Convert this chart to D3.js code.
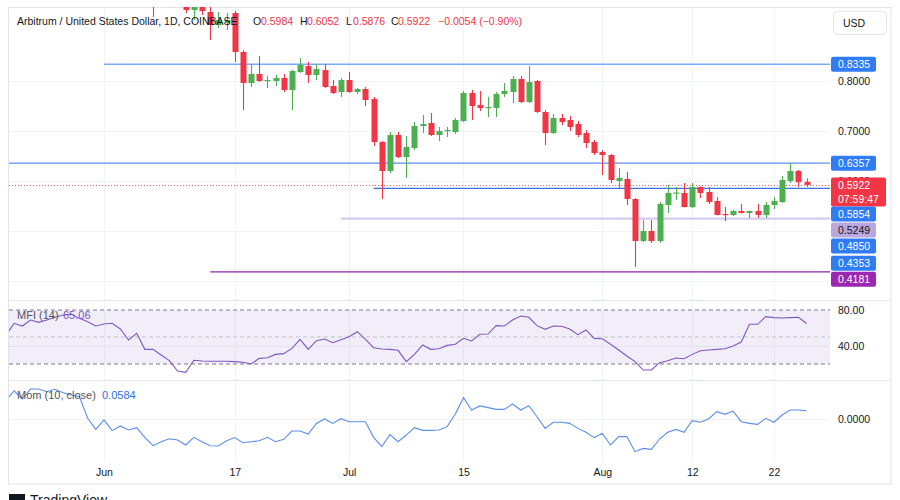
<!DOCTYPE html>
<html><head><meta charset="utf-8">
<script src="https://cdn.jsdelivr.net/npm/d3@7"></script>
<style>
body{margin:0;background:#fff}
svg text{font-family:"Liberation Sans",Arial,sans-serif}
</style>
</head><body>
<svg id="c" width="900" height="500"></svg>
<script>
// ---------- DATA ----------
const dates = ["05-20","05-21","05-22","05-23","05-24","05-25","05-26","05-27","05-28","05-29","05-30","05-31",
"06-01","06-02","06-03","06-04","06-05","06-06","06-07","06-08","06-09","06-10","06-11","06-12","06-13","06-14","06-15",
"06-16","06-17","06-18","06-19","06-20","06-21","06-22","06-23","06-24","06-25","06-26","06-27","06-28","06-29","06-30",
"07-01","07-02","07-03","07-04","07-05","07-06","07-07","07-08","07-09","07-10","07-11","07-12","07-13","07-14","07-15",
"07-16","07-17","07-18","07-19","07-20","07-21","07-22","07-23","07-24","07-25","07-26","07-27","07-28","07-29","07-30","07-31",
"08-01","08-02","08-03","08-04","08-05","08-06","08-07","08-08","08-09","08-10","08-11","08-12","08-13","08-14","08-15",
"08-16","08-17","08-18","08-19","08-20","08-21","08-22","08-23","08-24","08-25","08-26"];
const open = [1.03,1.12,1.13,1.10,1.09,1.12,1.11,1.12,1.19,1.16,1.12,1.13,
1.16,1.17,1.16,1.13,1.12,1.13,1.08,1.01,1.02,1.03,0.99,0.942,0.97,0.938,0.912,
0.916,0.936,0.858,0.796,0.814,0.801,0.800,0.806,0.782,0.818,0.830,0.812,0.822,0.790,0.778,
0.802,0.778,0.784,0.764,0.678,0.620,0.692,0.648,0.666,0.710,0.716,0.692,0.700,0.698,0.720,
0.776,0.752,0.746,0.746,0.774,0.778,0.804,0.758,0.800,0.738,0.696,0.726,0.722,0.714,0.696,0.678,
0.658,0.652,0.600,0.604,0.564,0.480,0.500,0.480,0.552,0.575,0.576,0.548,0.588,0.578,0.560,
0.534,0.532,0.540,0.536,0.540,0.532,0.552,0.558,0.600,0.620,0.5984];
const high = [1.13,1.17,1.15,1.16,1.13,1.14,1.13,1.22,1.20,1.18,1.15,1.16,
1.18,1.18,1.20,1.16,1.15,1.14,1.10,1.04,1.05,1.04,1.00,0.98,0.975,0.95,0.938,
0.936,0.94,0.862,0.834,0.85,0.81,0.812,0.814,0.822,0.846,0.838,0.834,0.834,0.802,0.806,
0.818,0.786,0.788,0.768,0.680,0.698,0.698,0.690,0.718,0.732,0.736,0.708,0.708,0.726,0.780,
0.782,0.780,0.768,0.778,0.796,0.810,0.810,0.830,0.802,0.742,0.734,0.734,0.730,0.720,0.702,0.682,
0.662,0.654,0.626,0.618,0.566,0.522,0.522,0.558,0.592,0.588,0.596,0.596,0.589,0.588,0.568,
0.548,0.542,0.554,0.541,0.554,0.558,0.568,0.610,0.6357,0.622,0.6052];
const low = [1.02,1.10,1.08,1.05,1.07,1.10,1.09,1.11,1.13,1.11,1.10,1.10,
1.15,1.14,1.12,1.10,1.10,1.06,0.928,0.99,1.00,0.98,0.936,0.922,0.932,0.882,0.906,
0.902,0.838,0.742,0.788,0.798,0.786,0.790,0.778,0.742,0.816,0.796,0.802,0.786,0.774,0.768,
0.776,0.774,0.750,0.670,0.564,0.616,0.646,0.606,0.662,0.696,0.690,0.680,0.688,0.694,0.718,
0.722,0.740,0.728,0.728,0.768,0.756,0.756,0.756,0.736,0.672,0.694,0.712,0.700,0.688,0.666,0.652,
0.612,0.596,0.586,0.552,0.428,0.478,0.476,0.476,0.536,0.562,0.547,0.546,0.566,0.554,0.531,
0.520,0.530,0.535,0.526,0.526,0.526,0.544,0.556,0.596,0.588,0.5876];
const close = [1.12,1.13,1.10,1.09,1.12,1.11,1.12,1.19,1.16,1.12,1.13,1.16,
1.17,1.16,1.13,1.12,1.13,1.08,1.01,1.02,1.03,0.99,0.942,0.97,0.94,0.912,0.922,
0.922,0.858,0.796,0.814,0.800,0.802,0.806,0.782,0.820,0.832,0.812,0.824,0.788,0.776,0.802,
0.778,0.784,0.762,0.678,0.620,0.692,0.648,0.668,0.710,0.714,0.692,0.700,0.702,0.722,0.776,
0.750,0.746,0.748,0.774,0.780,0.804,0.758,0.798,0.738,0.696,0.726,0.718,0.708,0.692,0.676,0.656,
0.652,0.602,0.606,0.564,0.480,0.500,0.480,0.554,0.576,0.577,0.548,0.588,0.576,0.558,0.532,
0.532,0.540,0.536,0.540,0.532,0.552,0.560,0.602,0.620,0.5976,0.5922];
const mfi = [52.2,65.2,62.2,68.9,66.3,68.9,71.9,74.4,75.6,70.7,67.0,62.2,
64.4,65.2,58.9,46.7,54.1,36.3,36.3,30.0,23.7,12.2,10.7,24.1,23.3,23.0,23.0,
23.0,22.6,21.9,20.0,26.3,27.0,30.7,31.5,37.4,47.4,36.3,45.9,47.8,43.7,47.0,
50.4,55.9,47.4,38.1,36.7,36.3,35.2,22.6,30.7,41.1,36.3,37.0,40.7,41.9,48.5,
45.6,53.0,53.3,62.6,62.2,68.9,73.3,71.9,62.6,58.5,62.2,61.9,58.9,52.6,57.8,48.5,
48.1,41.9,35.6,28.9,22.6,13.3,13.3,21.5,23.7,26.7,25.9,30.7,34.8,35.6,36.3,
37.0,40.0,44.4,64.1,64.1,72.6,71.5,71.1,71.5,71.9,65.06];
const mom = [0.13,0.199,0.141,0.211,0.211,0.192,0.209,0.185,0.169,0.157,0.005,-0.073,
-0.007,-0.082,-0.049,-0.077,-0.061,-0.129,-0.188,-0.160,-0.139,-0.148,-0.183,-0.129,-0.160,-0.188,-0.190,
-0.153,-0.131,-0.167,-0.160,-0.153,-0.129,-0.160,-0.143,-0.085,-0.085,-0.106,-0.031,0.000,-0.031,0.002,
-0.019,-0.019,-0.019,-0.129,-0.195,-0.110,-0.160,-0.113,-0.061,-0.080,-0.080,-0.077,-0.054,0.035,0.150,
0.063,0.092,0.080,0.068,0.068,0.106,0.063,0.094,0.016,-0.066,-0.023,-0.023,-0.031,-0.066,-0.094,-0.131,
-0.101,-0.183,-0.124,-0.124,-0.230,-0.207,-0.214,-0.141,-0.094,-0.073,-0.094,-0.012,-0.023,0.000,0.052,
0.033,0.056,-0.019,-0.031,-0.038,0.005,-0.023,0.028,0.063,0.063,0.0584];

const timeTickDates = ["06-01","06-17","07-01","07-15","08-01","08-12","08-22"];
const timeTickLabels = ["Jun","17","Jul","15","Aug","12","22"];
const priceTicks = [0.8,0.7,0.6,0.5,0.4];
const mfiTicks = [80,40];
const mfiBands = [80,50,20];
const momTicks = [0];
const levelValues = [0.8335,0.6357,0.5854,0.5249,0.4850,0.4353,0.4181];
const levelStarts  = ["06-01","05-20","07-04","06-30",null,null,"06-14"];
const levelKinds   = ["blueL","blue","blueD","lav",null,null,"purple"];
const titleText = "Arbitrum / United States Dollar, 1D, COINBASE";
const countdown = "07:59:47";

// ---------- SETUP ----------
const parse = d3.utcParse("%Y-%m-%d");
const D = s => parse("2024-" + s);
const data = dates.map((d,i)=>({date:D(d),o:open[i],h:high[i],l:low[i],c:close[i],mfi:mfi[i],mom:mom[i]}));
const svg = d3.select("#c");
const PL = 9, PR = 830, OR = 891;
const P = {top:7, bot:300}, M = {top:300.5, bot:380}, Mo = {top:380.5, bot:462};
const step = 8.17;
const x = d3.scaleUtc().domain([D("05-20"), D("08-26")]).range([104-12*step, 104+86*step]);
const y = d3.scaleLinear().domain([0.362,0.948]).range([P.bot,P.top]);
const ym = d3.scaleLinear().domain([2.22,90.56]).range([M.bot,M.top]);
const yo = d3.scaleLinear().domain([-0.3028,0.2711]).range([Mo.bot,Mo.top]);
const grid = "#f0f3fa", border = "#e0e3eb", up = "#4caf50", dn = "#f23645", txt = "#131722";
const FS = "10.5px";

const defs = svg.append("defs");
[["cp",P],["cm",M],["co",Mo]].forEach(([id,p])=>{
  defs.append("clipPath").attr("id",id).append("rect").attr("x",PL).attr("y",p.top).attr("width",PR-PL).attr("height",p.bot-p.top);
});

// grid lines
const g0 = svg.append("g");
timeTickDates.forEach(t=>{
  g0.append("line").attr("x1",Math.round(x(D(t)))+0.5).attr("x2",Math.round(x(D(t)))+0.5)
    .attr("y1",P.top).attr("y2",Mo.bot).attr("stroke",grid);
});
priceTicks.forEach(v=>g0.append("line").attr("x1",PL).attr("x2",PR).attr("y1",Math.round(y(v))+0.5).attr("y2",Math.round(y(v))+0.5).attr("stroke",grid));
mfiTicks.filter(v=>v!==80).forEach(v=>g0.append("line").attr("x1",PL).attr("x2",PR).attr("y1",Math.round(ym(v))+0.5).attr("y2",Math.round(ym(v))+0.5).attr("stroke",grid));
momTicks.forEach(v=>g0.append("line").attr("x1",PL).attr("x2",PR).attr("y1",Math.round(yo(v))+0.5).attr("y2",Math.round(yo(v))+0.5).attr("stroke",grid));

// borders
svg.append("rect").attr("x",8.5).attr("y",7.5).attr("width",OR-8.5).attr("height",484-7.5).attr("fill","none").attr("stroke",border);
[M.top, Mo.top].forEach(v=>svg.append("line").attr("x1",8.5).attr("x2",OR).attr("y1",v).attr("y2",v).attr("stroke",border));

// ---------- PRICE PANE ----------
const gp = svg.append("g").attr("clip-path","url(#cp)");
const lvlStyle = {blueL:["#7aaaf7",1.6],blue:["#5b8ff0",1.4],blueD:["#3d6fe0",1.2],lav:["#d6cbec",2.2],purple:["#8e24aa",1.2]};
levelValues.forEach((v,i)=>{
  if(!levelStarts[i]) return;
  const st = lvlStyle[levelKinds[i]];
  gp.append("line").attr("x1",Math.max(PL,x(D(levelStarts[i])))).attr("x2",PR)
    .attr("y1",y(v)).attr("y2",y(v)).attr("stroke",st[0]).attr("stroke-width",st[1]);
});
const last = data[data.length-1];
gp.append("line").attr("x1",PL).attr("x2",PR).attr("y1",Math.round(y(last.c))+0.5).attr("y2",Math.round(y(last.c))+0.5)
  .attr("stroke",dn).attr("stroke-width",1).attr("stroke-dasharray","1,2").attr("opacity",0.8);

const cw = 6;
const cg = gp.selectAll("g.c").data(data).enter().append("g");
cg.append("line").attr("x1",d=>Math.round(x(d.date))+0.5).attr("x2",d=>Math.round(x(d.date))+0.5)
  .attr("y1",d=>y(d.h)).attr("y2",d=>y(d.l)).attr("stroke",d=>d.c>=d.o?up:dn).attr("stroke-width",1.1);
cg.append("rect").attr("x",d=>Math.round(x(d.date))-cw/2+0.5).attr("width",cw)
  .attr("y",d=>y(Math.max(d.o,d.c))).attr("height",d=>Math.max(1.2,Math.abs(y(d.o)-y(d.c))))
  .attr("fill",d=>d.c>=d.o?up:dn);

// ---------- MFI PANE ----------
const gm = svg.append("g").attr("clip-path","url(#cm)");
gm.append("rect").attr("x",PL).attr("width",PR-PL).attr("y",ym(80)).attr("height",ym(20)-ym(80)).attr("fill","rgba(126,87,194,0.1)");
mfiBands.forEach(v=>gm.append("line").attr("x1",PL).attr("x2",PR).attr("y1",ym(v)).attr("y2",ym(v))
  .attr("stroke",v===50?"#c3c3c8":"#787b86").attr("stroke-dasharray","4,3"));
gm.append("path").datum(data).attr("fill","none").attr("stroke","#7e57c2").attr("stroke-width",1.1)
  .attr("d",d3.line().x(d=>x(d.date)).y(d=>ym(d.mfi)));

// ---------- MOM PANE ----------
const go = svg.append("g").attr("clip-path","url(#co)");
go.append("path").datum(data).attr("fill","none").attr("stroke","#5b8def").attr("stroke-width",1.1)
  .attr("d",d3.line().x(d=>x(d.date)).y(d=>yo(d.mom)));

// ---------- AXES ----------
const axFont = g=>{g.select(".domain").remove(); g.selectAll("text").attr("fill",txt).style("font-size",FS);};
svg.append("g").attr("transform",`translate(832,0)`)
  .call(d3.axisRight(y).tickValues(priceTicks).tickSize(0).tickPadding(6).tickFormat(d3.format(".4f"))).call(axFont);
svg.append("g").attr("transform",`translate(832,0)`)
  .call(d3.axisRight(ym).tickValues(mfiTicks).tickSize(0).tickPadding(6).tickFormat(d3.format(".2f"))).call(axFont);
svg.append("g").attr("transform",`translate(832,0)`)
  .call(d3.axisRight(yo).tickValues(momTicks).tickSize(0).tickPadding(6).tickFormat(d3.format(".4f"))).call(axFont);
svg.append("g").attr("transform",`translate(0,466)`)
  .call(d3.axisBottom(x).tickValues(timeTickDates.map(D)).tickSize(0).tickPadding(3)
    .tickFormat((d,i)=>timeTickLabels[i])).call(axFont);

// ---------- PRICE LABELS ----------
const lblCol = {blueL:["#2f7cf6","#fff"],blue:["#2f7cf6","#fff"],blueD:["#2f7cf6","#fff"],lav:["#b9a7de",txt],purple:["#9c27b0","#fff"],none:["#2f7cf6","#fff"]};
const curY = y(last.c);
const redTop = curY - 7.5, redBot = redTop + 29;
const labels = levelValues.map((v,i)=>({v, kind: levelKinds[i]||"none", ny: y(v)})).sort((a,b)=>a.ny-b.ny);
const H = 15;
let prevBottom = -1e9;
labels.forEach(l=>{
  let cy = l.ny;
  if (prevBottom > -1e9) cy = Math.max(cy, prevBottom + H/2 + 1);
  if (cy + H/2 > redTop && cy - H/2 < redBot) cy = redBot + H/2;
  l.cy = cy; prevBottom = cy + H/2;
});
const gl = svg.append("g");
gl.append("rect").attr("x",831).attr("y",redTop).attr("width",55).attr("height",29).attr("rx",2).attr("fill",dn);
gl.append("text").attr("x",838).attr("y",curY+4).attr("fill","#fff").style("font-size",FS).text(d3.format(".4f")(last.c));
gl.append("text").attr("x",838).attr("y",curY+18.5).attr("fill","#fff").style("font-size",FS).text(countdown);
labels.forEach(l=>{
  const c = lblCol[l.kind];
  gl.append("rect").attr("x",831).attr("y",l.cy-H/2).attr("width",45).attr("height",H).attr("rx",2).attr("fill",c[0]);
  gl.append("text").attr("x",838).attr("y",l.cy+4).attr("fill",c[1]).style("font-size",FS).text(d3.format(".4f")(l.v));
});

// USD box
svg.append("rect").attr("x",833.5).attr("y",11.5).attr("width",53).attr("height",23).attr("rx",4).attr("fill","#fff").attr("stroke",border);
svg.append("text").attr("x",843).attr("y",27).attr("fill",txt).style("font-size",FS).text("USD");

// ---------- HEADER ----------
const f4 = d3.format(".4f");
const prev = data[data.length-2];
const chg = last.c - prev.c;
const hd = svg.append("g").style("font-size","10.5px");
hd.append("text").attr("x",17).attr("y",25).attr("fill",txt).text(titleText);
const hdItems = [["O",last.o,253,261],["H",last.h,300,307],["L",last.l,346,353],["C",last.c,391,398]];
hdItems.forEach(([k,v,xk,xv])=>{
  hd.append("text").attr("x",xk).attr("y",25).attr("fill",txt).text(k);
  hd.append("text").attr("x",xv).attr("y",25).attr("fill",dn).text(f4(v));
});
hd.append("text").attr("x",438).attr("y",25).attr("fill",dn)
  .text(`${f4(chg)} (${d3.format(".2f")(chg/prev.c*100)}%)`);

// ---------- LEGENDS ----------
const lg = svg.append("g").style("font-size","11px");
lg.append("text").attr("x",17).attr("y",319).attr("fill","#50535e").text("MFI (14)");
lg.append("text").attr("x",63).attr("y",319).attr("fill","#7e57c2").text(d3.format(".2f")(last.mfi));
lg.append("text").attr("x",17).attr("y",399).attr("fill","#50535e").text("Mom (10, close)");
lg.append("text").attr("x",102).attr("y",399).attr("fill","#2f6cf0").text(f4(last.mom));

// footer
svg.append("rect").attr("x",9).attr("y",494).attr("width",16).attr("height",8).attr("fill","#131722");
svg.append("text").attr("x",30).attr("y",505).attr("fill",txt).style("font-size","14px").text("TradingView");
</script>
</body></html>
